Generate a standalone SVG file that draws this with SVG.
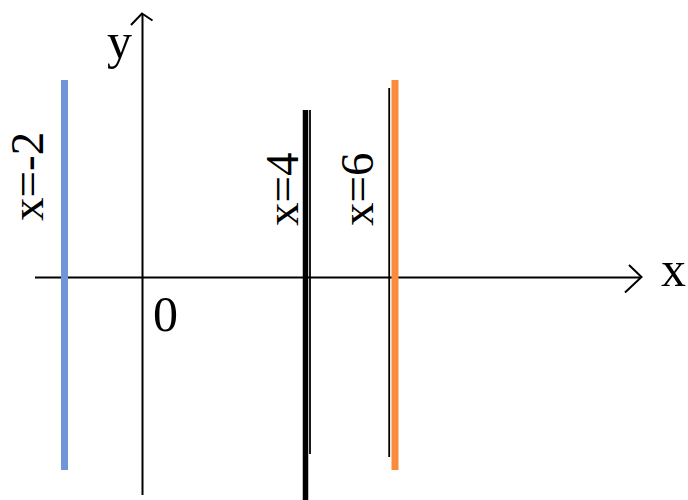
<svg xmlns="http://www.w3.org/2000/svg" width="688" height="500" viewBox="0 0 688 500">
<style>
.lbl{font-family:"Liberation Serif","Times New Roman",serif;font-size:47px;fill:#000}
.big{font-size:50px}
.axis{stroke:#000;stroke-width:2;fill:none}
</style>
<rect width="688" height="500" fill="#fff"/>
<g id="connectors">
<line class="axis" x1="35" y1="277.5" x2="641" y2="277.5"/>
<polyline class="axis" points="629,265 641.5,277 625,292.5"/>
<line class="axis" x1="142.5" y1="495" x2="142.5" y2="14"/>
<polyline class="axis" points="131,25 142,13.5 152.5,20.5"/>
</g>
<g id="line-xm2">
<line x1="64.5" y1="80" x2="64.5" y2="470" stroke="#7096D8" stroke-width="7"/>
<text class="lbl" transform="translate(43,221) rotate(-90)">x=-2</text>
</g>
<g id="line-x4">
<line x1="305.5" y1="110" x2="305.5" y2="500" stroke="#000" stroke-width="5.5"/>
<line x1="310" y1="110" x2="310" y2="454" stroke="#000" stroke-width="1.8"/>
<text class="lbl" transform="translate(298,226) rotate(-90)">x=4</text>
</g>
<g id="line-x6">
<line x1="389.2" y1="88" x2="389.2" y2="457" stroke="#000" stroke-width="1.8"/>
<line x1="395" y1="80" x2="395" y2="470" stroke="#F98B3C" stroke-width="7"/>
<text class="lbl" transform="translate(373,226) rotate(-90)">x=6</text>
</g>
<g id="labels">
<text class="lbl big" x="107" y="58">y</text>
<text class="lbl big" x="661" y="286">x</text>
<text class="lbl big" x="153" y="331">0</text>
</g>
</svg>
